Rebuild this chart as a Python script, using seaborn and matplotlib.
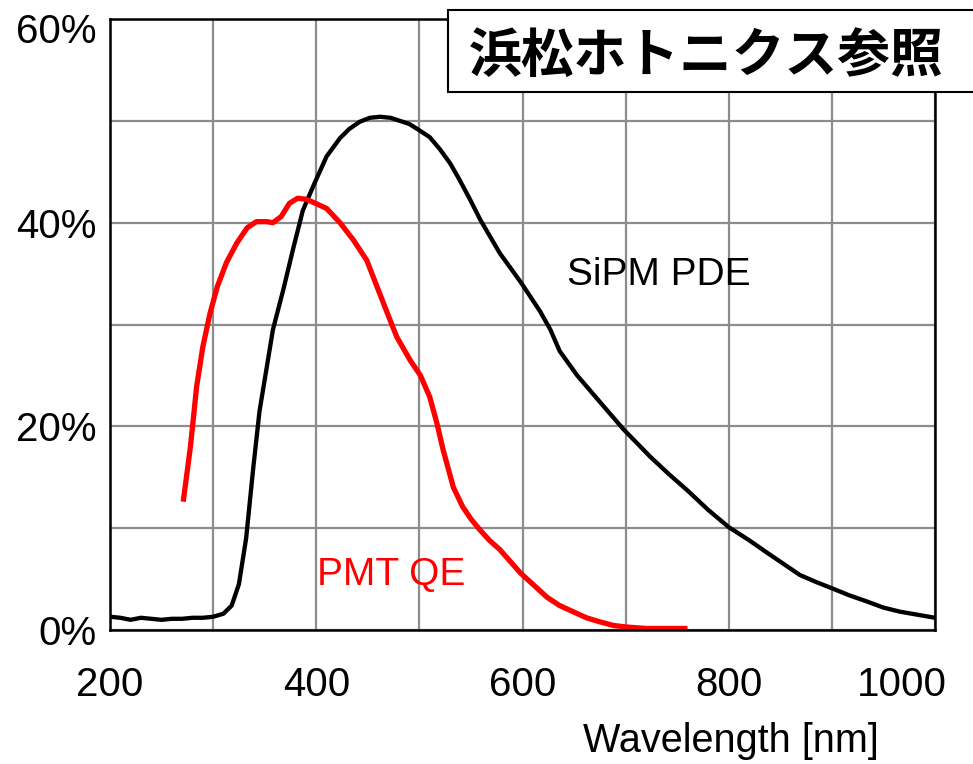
import numpy as np
import pandas as pd
import matplotlib
matplotlib.use('Agg')
import matplotlib.pyplot as plt
import matplotlib.transforms as mtransforms
from matplotlib.patches import Rectangle
import seaborn as sns

# SiPM photon detection efficiency (%)
sipm_nm = [200, 210, 220, 230, 240, 250, 260, 270, 280, 290, 300, 310, 318, 325,
           332, 339, 345, 352, 358, 368, 378, 387, 398, 410, 423, 432, 442, 452, 462,
           472, 481, 490, 498, 510, 520, 530, 539, 549, 559, 578, 598, 617, 627, 636,
           653, 675, 698, 724, 742, 760, 780, 800, 820, 837, 853, 869, 885, 900, 917,
           934, 950, 966, 983, 1000]
sipm_pde = [1.3, 1.2, 1.0, 1.2, 1.1, 1.0, 1.1, 1.1, 1.2, 1.2, 1.3, 1.6, 2.4, 4.5,
            9.0, 16.0, 21.5, 25.8, 29.5, 33.4, 37.6, 41.2, 43.8, 46.5, 48.3, 49.2, 49.9, 50.3, 50.4,
            50.3, 50.0, 49.7, 49.2, 48.4, 47.2, 45.8, 44.2, 42.3, 40.3, 37.0, 34.2, 31.3, 29.5, 27.4,
            25.0, 22.4, 19.7, 17.0, 15.3, 13.7, 11.8, 10.1, 8.8, 7.6, 6.5, 5.4, 4.7, 4.1, 3.4,
            2.8, 2.2, 1.8, 1.5, 1.2]

# PMT quantum efficiency (%)
pmt_nm = [271, 278, 284, 290, 297, 304, 313, 323, 333, 342, 352, 358, 366, 374,
          382, 390, 397, 410, 423, 436, 449, 459, 469, 478, 491, 501, 510, 517, 523,
          533, 542, 550, 559, 568, 578, 598, 611, 624, 636, 649, 662, 675, 688, 700, 720, 760]
pmt_qe = [12.6, 18.0, 23.9, 27.8, 31.1, 33.7, 36.1, 38.0, 39.5, 40.1, 40.1, 40.0, 40.6, 41.9,
          42.4, 42.3, 42.0, 41.4, 40.0, 38.3, 36.3, 33.7, 31.1, 28.8, 26.5, 25.0, 22.9, 20.3, 17.7,
          14.0, 12.1, 10.9, 9.8, 8.8, 7.9, 5.6, 4.4, 3.2, 2.4, 1.8, 1.2, 0.8, 0.45, 0.3, 0.15, 0.15]

x_ticks = list(range(200, 1001, 100))
x_labels = [str(v) if v % 200 == 0 else '' for v in x_ticks]
y_ticks = list(range(0, 61, 10))
y_labels = [f'{v}%' if v % 20 == 0 else '' for v in y_ticks]

sipm_df = pd.DataFrame({'nm': sipm_nm, 'eff': sipm_pde})
pmt_df = pd.DataFrame({'nm': pmt_nm, 'eff': pmt_qe})

sns.set_theme(style='white')
plt.rcParams['font.family'] = ['Liberation Sans', 'Noto Sans CJK JP', 'DejaVu Sans']
plt.rcParams['text.color'] = 'black'
plt.rcParams['axes.labelcolor'] = 'black'

fig = plt.figure(figsize=(9.73, 7.64), dpi=100)
ax = fig.add_axes([110 / 973, 1 - 630 / 764, 825 / 973, 611 / 764])

grid_col = '#8c8c8c'
ax.grid(True, color=grid_col, linewidth=1.6, zorder=0)
ax.set_axisbelow(True)

sns.lineplot(data=sipm_df, x='nm', y='eff', ax=ax, color='black', linewidth=3.1,
             estimator=None, zorder=3)
sns.lineplot(data=pmt_df, x='nm', y='eff', ax=ax, color='#ff0000', linewidth=3.8,
             estimator=None, zorder=4)
for ln in ax.lines:
    ln.set_solid_joinstyle('round')
    ln.set_solid_capstyle('butt')

ax.set_xlim(200, 1000)
ax.set_ylim(0, 60)
ax.set_xticks(x_ticks)
ax.set_xticklabels(x_labels)
ax.set_yticks(y_ticks)
ax.set_yticklabels(y_labels)
ax.tick_params(axis='both', which='major', labelsize=29, length=6, width=1.6,
               color=grid_col, labelcolor='black', direction='out')
ax.tick_params(axis='x', pad=20)
ax.tick_params(axis='y', pad=3.5)

for side in ['left', 'bottom', 'top', 'right']:
    ax.spines[side].set_visible(True)
    ax.spines[side].set_color('black')
    ax.spines[side].set_linewidth(1.8)
    ax.spines[side].set_zorder(5)

ax.set_ylabel('')
ax.set_xlabel('Wavelength [nm]', fontsize=28.5, color='black')
ax.xaxis.set_label_coords(0.753, -0.150)

ax.text(643, 33.9, 'SiPM PDE', fontsize=28, color='black', ha='left', va='baseline')
ax.text(401, 4.4, 'PMT QE', fontsize=28, color='#ff0000', ha='left', va='baseline')

# shift the last x label left and the top y label down so both stay inside the image
last = ax.get_xticklabels()[-1]
last.set_transform(last.get_transform() + mtransforms.ScaledTranslation(-0.33, 0, fig.dpi_scale_trans))
top = ax.get_yticklabels()[-1]
top.set_transform(top.get_transform() + mtransforms.ScaledTranslation(0, -0.09, fig.dpi_scale_trans))

# source note box in the top right corner
box = Rectangle((448 / 973, 1 - 92 / 764), 0.6, 82 / 764, transform=fig.transFigure,
                facecolor='white', edgecolor='black', linewidth=1.5, zorder=10)
fig.patches.append(box)
fig.text(0.7261, 0.925, '浜松ホトニクス参照', fontsize=38, fontweight='bold', color='black',
         family=['Noto Sans CJK JP', 'DejaVu Sans'], ha='center', va='center', zorder=11)

plt.savefig('out.png', dpi=100)
plt.close()
